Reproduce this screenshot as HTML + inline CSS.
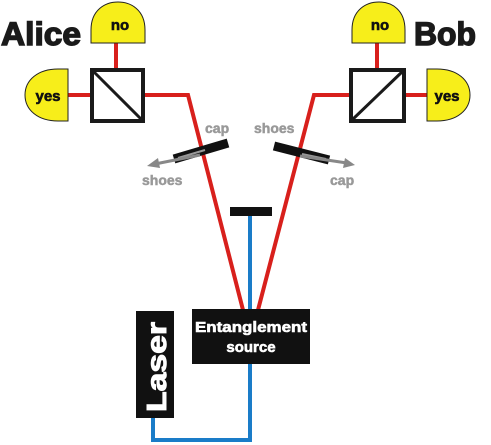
<!DOCTYPE html>
<html><head><style>body{margin:0;background:#fff}svg{display:block}text{font-family:"Liberation Sans",Arial,sans-serif;font-weight:bold}</style></head>
<body>
<svg width="491" height="445" viewBox="0 0 491 445">
<polyline points="145,95 188,95 243,310" fill="none" stroke="#d8201c" stroke-width="4"/>
<polyline points="349,95 314,95 258,310" fill="none" stroke="#d8201c" stroke-width="4"/>
<line x1="116" y1="43" x2="116" y2="68" stroke="#d8201c" stroke-width="4"/>
<line x1="68" y1="95" x2="90" y2="95" stroke="#d8201c" stroke-width="4"/>
<line x1="377" y1="43" x2="377" y2="68" stroke="#d8201c" stroke-width="4"/>
<line x1="406" y1="95" x2="427" y2="95" stroke="#d8201c" stroke-width="4"/>
<polyline points="250,214 250,440 153,440 153,418" fill="none" stroke="#1a7cc8" stroke-width="4"/>
<rect x="230" y="207" width="42" height="9" fill="#111"/>
<path d="M91,43 L91,30 C91,10 105,2 118,2 C131,2 145,10 145,30 L145,43 Z" fill="#f7ee1a" stroke="#222" stroke-width="1"/>
<path d="M68,69 L58,69 C38,69 25,80 25,95 C25,110 38,121 58,121 L68,121 Z" fill="#f7ee1a" stroke="#222" stroke-width="1"/>
<path d="M352,43 L352,30 C352,10 366,2 379,2 C392,2 405,10 405,30 L405,43 Z" fill="#f7ee1a" stroke="#222" stroke-width="1"/>
<path d="M427,69 L437,69 C457,69 470,80 470,95 C470,110 457,121 437,121 L427,121 Z" fill="#f7ee1a" stroke="#222" stroke-width="1"/>
<g fill="#111" stroke="#111" stroke-width="0.6" font-size="15" text-anchor="middle">
<text x="120" y="30">no</text>
<text x="380" y="30">no</text>
<text x="48" y="101">yes</text>
<text x="447" y="101">yes</text>
</g>
<rect x="92" y="70" width="51" height="51" fill="#fff" stroke="#1a1a1a" stroke-width="4"/>
<line x1="93" y1="71" x2="142" y2="120" stroke="#1a1a1a" stroke-width="3"/>
<rect x="351" y="70" width="53" height="51" fill="#fff" stroke="#1a1a1a" stroke-width="4"/>
<line x1="352" y1="120" x2="403" y2="71" stroke="#1a1a1a" stroke-width="3"/>
<text x="1" y="45" font-size="32" fill="#1a1a1a" stroke="#1a1a1a" stroke-width="1.4" textLength="80" lengthAdjust="spacingAndGlyphs">Alice</text>
<text x="414" y="45" font-size="32" fill="#1a1a1a" stroke="#1a1a1a" stroke-width="1.4" textLength="62" lengthAdjust="spacingAndGlyphs">Bob</text>
<line x1="174" y1="159" x2="228" y2="143" stroke="#111" stroke-width="9"/>
<line x1="178" y1="158" x2="205" y2="150" stroke="#999" stroke-width="2"/>
<line x1="200" y1="155" x2="155" y2="164" stroke="#888" stroke-width="3"/>
<polygon points="147,166 158,158 160,168" fill="#888"/>
<line x1="274" y1="146" x2="329" y2="160" stroke="#111" stroke-width="9"/>
<line x1="302" y1="154" x2="326" y2="159" stroke="#999" stroke-width="2"/>
<line x1="300" y1="156" x2="347" y2="163" stroke="#888" stroke-width="3"/>
<polygon points="355,165 345,158 343,168" fill="#888"/>
<g fill="#999" stroke="#999" stroke-width="0.5" font-size="14">
<text x="205" y="133">cap</text>
<text x="142" y="185">shoes</text>
<text x="254" y="133">shoes</text>
<text x="330" y="185">cap</text>
</g>
<rect x="192" y="309" width="118" height="55" fill="#111"/>
<g fill="#fff" stroke="#fff" stroke-width="0.6" font-size="15" text-anchor="middle">
<text x="251" y="332" textLength="112" lengthAdjust="spacingAndGlyphs">Entanglement</text>
<text x="251" y="352">source</text>
</g>
<rect x="136" y="311" width="38" height="107" fill="#111"/>
<text transform="translate(166,412) rotate(-90)" font-size="28" fill="#fff" stroke="#fff" stroke-width="1" textLength="90" lengthAdjust="spacingAndGlyphs">Laser</text>
</svg>
</body></html>
